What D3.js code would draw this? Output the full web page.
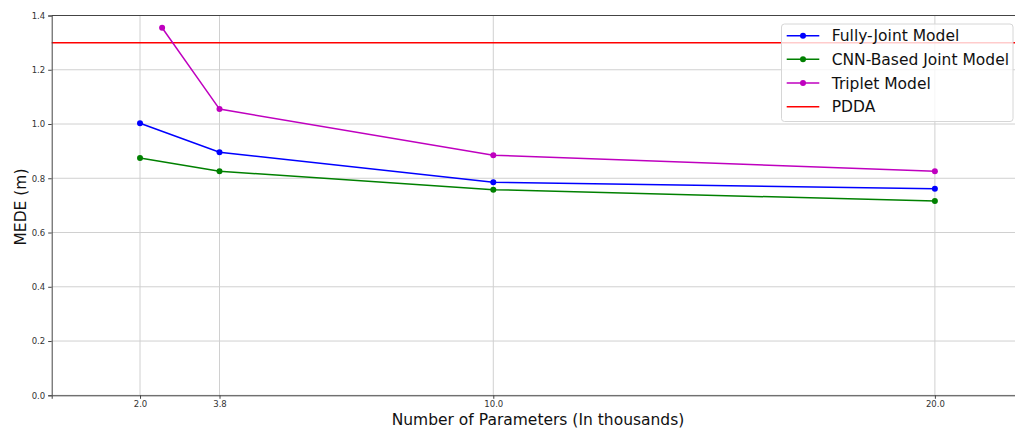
<!DOCTYPE html>
<html>
<head>
<meta charset="utf-8">
<script src="https://cdn.jsdelivr.net/npm/d3@7"></script>
<style>
  html, body { margin: 0; padding: 0; background: #fff; }
  svg { display: block; font-family: "DejaVu Sans", sans-serif; }
</style>
</head>
<body>
<svg id="chart" width="1015" height="428"></svg>
<script>
// Parameter counts (thousands) and MEDE values per model
const xTicks = [2.0, 3.8, 10.0, 20.0];
const yTicks = [0.0, 0.2, 0.4, 0.6, 0.8, 1.0, 1.2, 1.4];

const fullyJointX = [2.0, 3.8, 10.0, 20.0];
const fullyJointY = [1.003, 0.896, 0.785, 0.761];

const cnnJointX = [2.0, 3.8, 10.0, 20.0];
const cnnJointY = [0.875, 0.826, 0.758, 0.716];

const tripletX = [2.5, 3.8, 10.0, 20.0];
const tripletY = [1.355, 1.055, 0.885, 0.826];

const pddaValue = 1.3;

const seriesNames = ["Fully-Joint Model", "CNN-Based Joint Model", "Triplet Model", "PDDA"];
const seriesColors = ["#0000ff", "#008000", "#bf00bf", "#ff0000"];

const svg = d3.select("#chart");
const plot = { left: 51.7, right: 1023.2, top: 15.5, bottom: 395.3 };

const x = d3.scaleLinear().domain([0, 22]).range([plot.left, plot.right]);
const y = d3.scaleLinear().domain([0, 1.4]).range([plot.bottom, plot.top]);

// grid
const grid = svg.append("g");
grid.selectAll("line.gx").data(xTicks).join("line")
  .attr("x1", d => x(d)).attr("x2", d => x(d))
  .attr("y1", plot.top).attr("y2", plot.bottom)
  .attr("stroke", "#d0d0d0").attr("stroke-width", 1);
grid.selectAll("line.gy").data(yTicks).join("line")
  .attr("x1", plot.left).attr("x2", plot.right)
  .attr("y1", d => y(d)).attr("y2", d => y(d))
  .attr("stroke", "#d0d0d0").attr("stroke-width", 1);

// PDDA reference line
svg.append("line")
  .attr("x1", plot.left).attr("x2", plot.right)
  .attr("y1", y(pddaValue)).attr("y2", y(pddaValue))
  .attr("stroke", seriesColors[3]).attr("stroke-width", 1.5);

// model series
const series = [
  { xs: fullyJointX, ys: fullyJointY, color: seriesColors[0] },
  { xs: cnnJointX, ys: cnnJointY, color: seriesColors[1] },
  { xs: tripletX, ys: tripletY, color: seriesColors[2] }
];
const line = d3.line().x(d => x(d[0])).y(d => y(d[1]));
series.forEach(s => {
  const pts = s.xs.map((v, i) => [v, s.ys[i]]);
  svg.append("path").datum(pts)
    .attr("d", line).attr("fill", "none")
    .attr("stroke", s.color).attr("stroke-width", 1.5);
  svg.append("g").selectAll("circle").data(pts).join("circle")
    .attr("cx", d => x(d[0])).attr("cy", d => y(d[1])).attr("r", 3)
    .attr("fill", s.color);
});

// axes
const xAxis = svg.append("g").attr("transform", `translate(0,${plot.bottom})`)
  .call(d3.axisBottom(x).tickValues(xTicks).tickFormat(d3.format(".1f")).tickSizeOuter(0).tickSize(3.5).tickPadding(2.5));
const yAxis = svg.append("g").attr("transform", `translate(${plot.left},0)`)
  .call(d3.axisLeft(y).tickValues(yTicks).tickFormat(d3.format(".1f")).tickSizeOuter(0).tickSize(3.5).tickPadding(3));
[xAxis, yAxis].forEach(a => {
  a.selectAll("text").attr("font-size", 8.5).attr("fill", "#333").attr("font-family", "DejaVu Sans, sans-serif");
  a.selectAll("line").attr("stroke", "#444");
  a.select(".domain").attr("stroke", "#444");
});
// top spine
svg.append("line")
  .attr("x1", plot.left).attr("x2", plot.right)
  .attr("y1", plot.top).attr("y2", plot.top)
  .attr("stroke", "#444").attr("stroke-width", 1);

// axis titles
svg.append("text")
  .attr("x", 538).attr("y", 424.5)
  .attr("text-anchor", "middle").attr("font-size", 15.5).attr("fill", "#111")
  .text("Number of Parameters (In thousands)");
svg.append("text")
  .attr("transform", `translate(26,207) rotate(-90)`)
  .attr("text-anchor", "middle").attr("font-size", 15.5).attr("fill", "#111")
  .text("MEDE (m)");

// legend
const legend = svg.append("g");
legend.append("rect")
  .attr("x", 781.5).attr("y", 24).attr("width", 231.5).attr("height", 97.5)
  .attr("rx", 3).attr("fill", "#fff").attr("fill-opacity", 0.8)
  .attr("stroke", "#d6d6d6").attr("stroke-width", 1);
const rowY = d3.scaleLinear().domain([0, 3]).range([35.7, 106.7]);
seriesNames.forEach((name, i) => {
  const cy = rowY(i);
  legend.append("line")
    .attr("x1", 786.7).attr("x2", 819.3).attr("y1", cy).attr("y2", cy)
    .attr("stroke", seriesColors[i]).attr("stroke-width", 1.5);
  if (i < 3) {
    legend.append("circle").attr("cx", 803).attr("cy", cy).attr("r", 3).attr("fill", seriesColors[i]);
  }
  legend.append("text")
    .attr("x", 831.7).attr("y", cy).attr("dy", "0.36em")
    .attr("font-size", 15.5).attr("fill", "#111")
    .text(name);
});
</script>
</body>
</html>
